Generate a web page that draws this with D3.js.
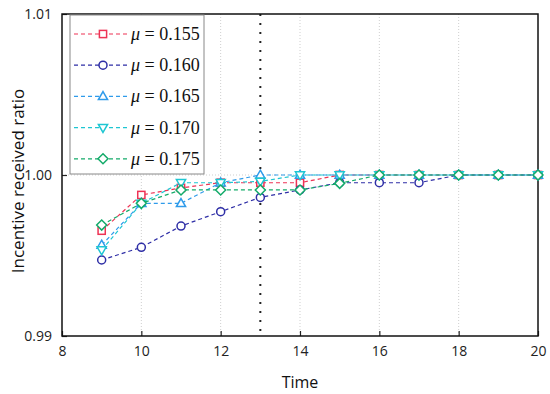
<!DOCTYPE html>
<html>
<head>
<meta charset="utf-8">
<script src="https://cdn.jsdelivr.net/npm/d3@7"></script>
<style>
  body { margin: 0; background: #fff; }
  svg { display: block; }
  .tick text { font-family: "Open Sans", sans-serif; font-size: 14px; fill: #222; }
</style>
</head>
<body>
<div id="chart"></div>
<script>
const times = [9, 10, 11, 12, 13, 14, 15, 16, 17, 18, 19, 20];
const mu155 = [0.99654, 0.99876, 0.9992, 0.99952, 0.99952, 0.99952, 1, 1, 1, 1, 1, 1];
const mu160 = [0.99472, 0.99551, 0.99683, 0.99772, 0.99861, 0.99907, 0.99952, 0.99952, 0.99952, 1, 1, 1];
const mu165 = [0.99565, 0.99824, 0.99824, 0.99952, 1, 1, 1, 1, 1, 1, 1, 1];
const mu170 = [0.99534, 0.99824, 0.99952, 0.99952, 0.9996, 1, 1, 1, 1, 1, 1, 1];
const mu175 = [0.99689, 0.99824, 0.99907, 0.99907, 0.99907, 0.99907, 0.99948, 1, 1, 1, 1, 1];
const seriesNames = ["0.155", "0.160", "0.165", "0.170", "0.175"];
const xTicks = [8, 10, 12, 14, 16, 18, 20];
const yTicks = [0.99, 1.00, 1.01];
const markLine = 13;

const series = [
  { name: seriesNames[0], values: mu155, color: "#ee3355", shape: "square" },
  { name: seriesNames[1], values: mu160, color: "#2e2ea6", shape: "circle" },
  { name: seriesNames[2], values: mu165, color: "#2f9bea", shape: "triUp" },
  { name: seriesNames[3], values: mu170, color: "#1ec6d2", shape: "triDown" },
  { name: seriesNames[4], values: mu175, color: "#14ab6a", shape: "diamond" }
];

const [width, height] = [550, 394];
const margin = { top: 14, right: 12, bottom: 58, left: 62 };
const svg = d3.select("#chart").append("svg").attr("width", width).attr("height", height);

const x = d3.scaleLinear().domain([8, 20]).range([margin.left, width - margin.right]);
const y = d3.scaleLinear().domain([0.99, 1.01]).range([height - margin.bottom, margin.top]);

// grid
svg.append("g").selectAll("line").data(xTicks.slice(1, -1)).enter().append("line")
  .attr("x1", d => x(d)).attr("x2", d => x(d))
  .attr("y1", y(1.01)).attr("y2", y(0.99))
  .attr("stroke", "#cfcfcf").attr("stroke-width", 1).attr("stroke-dasharray", "1,2");
svg.append("line")
  .attr("x1", x(8)).attr("x2", x(20)).attr("y1", y(1)).attr("y2", y(1))
  .attr("stroke", "#cfcfcf").attr("stroke-width", 1).attr("stroke-dasharray", "1,2");

// vertical dotted marker
svg.append("line")
  .attr("x1", x(markLine)).attr("x2", x(markLine))
  .attr("y1", y(1.01)).attr("y2", y(0.99))
  .attr("stroke", "#222").attr("stroke-width", 2).attr("stroke-dasharray", "2,7");

// axes
const xAxis = d3.axisBottom(x).tickValues(xTicks).tickFormat(d3.format("d")).tickSizeInner(-5).tickSizeOuter(0).tickPadding(10);
svg.append("g").attr("transform", `translate(0, ${y(0.99)})`).call(xAxis)
  .call(g => g.select(".domain").remove());
const yAxis = d3.axisLeft(y).tickValues(yTicks).tickFormat(d3.format(".2f")).tickSizeInner(-5).tickSizeOuter(0).tickPadding(10);
svg.append("g").attr("transform", `translate(${x(8)}, 0)`).call(yAxis)
  .call(g => g.select(".domain").remove());
svg.selectAll(".tick line").attr("stroke", "#222").attr("stroke-width", 1.2);

svg.append("rect")
  .attr("x", x(8)).attr("y", y(1.01))
  .attr("width", x(20) - x(8)).attr("height", y(0.99) - y(1.01))
  .attr("fill", "none").attr("stroke", "#111").attr("stroke-width", 1.5);

// titles
svg.append("text").attr("x", (x(8) + x(20)) / 2).attr("y", 388)
  .attr("text-anchor", "middle").style("font-family", "'Open Sans', sans-serif").style("font-size", "16px").attr("fill", "#111")
  .text("Time");
svg.append("text").attr("transform", `translate(24, ${y(1) + 6}) rotate(-90)`)
  .attr("text-anchor", "middle").style("font-family", "'Open Sans', sans-serif").style("font-size", "17px").attr("fill", "#111")
  .text("Incentive received ratio");

// markers
const drawMarker = (g, shape, color, cx, cy) => {
  const s = 3.6;
  let el;
  if (shape === "square") {
    el = g.append("rect").attr("x", cx - s).attr("y", cy - s).attr("width", 2 * s).attr("height", 2 * s);
  } else if (shape === "circle") {
    el = g.append("circle").attr("cx", cx).attr("cy", cy).attr("r", 4);
  } else if (shape === "triUp") {
    el = g.append("path").attr("d", `M${cx},${cy - 4.8}L${cx + 4.6},${cy + 3.2}L${cx - 4.6},${cy + 3.2}Z`);
  } else if (shape === "triDown") {
    el = g.append("path").attr("d", `M${cx},${cy + 4.8}L${cx + 4.6},${cy - 3.2}L${cx - 4.6},${cy - 3.2}Z`);
  } else {
    el = g.append("path").attr("d", `M${cx},${cy - 5}L${cx + 5},${cy}L${cx},${cy + 5}L${cx - 5},${cy}Z`);
  }
  el.attr("fill", "#fff").attr("stroke", color).attr("stroke-width", 1.5);
};

const line = d3.line().x((d, i) => x(times[i])).y(d => y(d));
series.forEach(s => {
  const g = svg.append("g");
  g.append("path").datum(s.values).attr("d", line)
    .attr("fill", "none").attr("stroke", s.color).attr("stroke-width", 1.2).attr("stroke-dasharray", "4,3");
  s.values.forEach((v, i) => drawMarker(g, s.shape, s.color, x(times[i]), y(v)));
});

// legend
const legend = svg.append("g");
legend.append("rect").attr("x", 70).attr("y", 15).attr("width", 134).attr("height", 159)
  .attr("fill", "#fff").attr("stroke", "#888").attr("stroke-width", 1);
series.forEach((s, i) => {
  const ly = 34 + i * 31.2;
  legend.append("line").attr("x1", 74).attr("x2", 128).attr("y1", ly).attr("y2", ly)
    .attr("stroke", s.color).attr("stroke-width", 1.2).attr("stroke-dasharray", "4,3");
  drawMarker(legend, s.shape, s.color, 103, ly);
  const t = legend.append("text").attr("x", 131).attr("y", ly + 6)
    .style("font-family", "'Liberation Serif', serif").style("font-size", "18px").attr("fill", "#111");
  t.append("tspan").style("font-style", "italic").text("\u03bc");
  t.append("tspan").text(" = " + s.name);
});
</script>
</body>
</html>
